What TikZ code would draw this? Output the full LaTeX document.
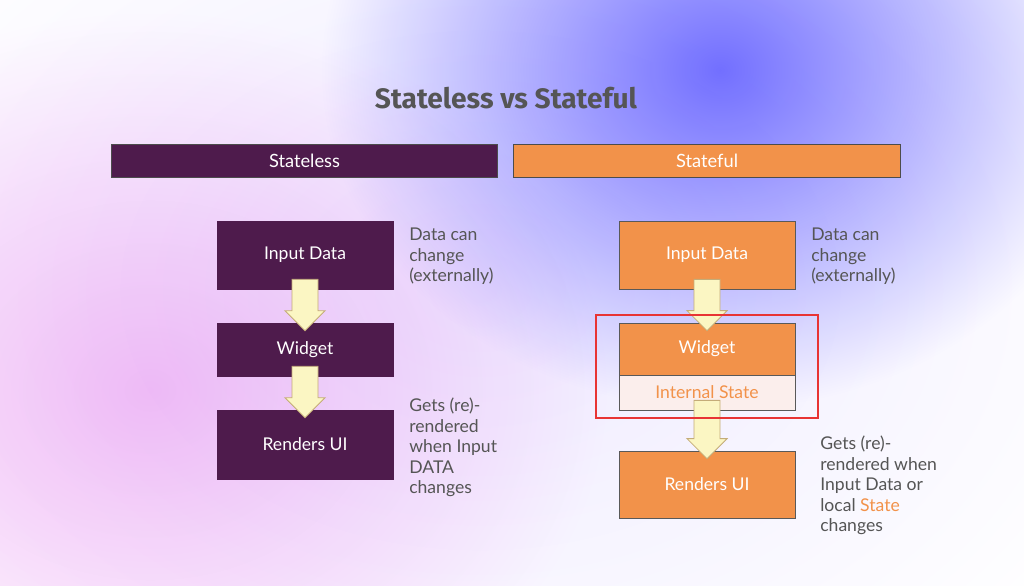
\documentclass[tikz,border=0pt]{standalone}
\usepackage{fontspec}
\setmainfont{Lato}
\newfontfamily\titlefont{Fira Sans}
\usepackage{tikz}
\usetikzlibrary{calc,fit,backgrounds}
\definecolor{plum}{RGB}{78,27,76}
\definecolor{tangerine}{RGB}{242,146,74}
\definecolor{noteGray}{RGB}{85,85,85}
\definecolor{cream}{RGB}{251,246,195}
\definecolor{creamEdge}{RGB}{196,172,120}
\definecolor{blushFill}{RGB}{251,238,236}
\definecolor{frameRed}{RGB}{232,52,52}
\tikzset{
  header/.style={draw=black!70, line width=0.5pt, minimum width=9.66cm, minimum height=0.825cm,
                 text=white, font=\fontsize{13}{15}\selectfont},
  lbox/.style={fill=plum, draw=plum, minimum width=4.4cm, text=white,
               font=\fontsize{12.5}{14}\selectfont},
  rbox/.style={fill=tangerine, draw=black!65, line width=0.5pt, minimum width=4.4cm, text=white,
               font=\fontsize{12.5}{14}\selectfont},
  note/.style={anchor=north west, inner sep=0pt, align=left, text=noteGray,
               font=\fontsize{12.5}{14.5}\selectfont},
  blockarr/.style={fill=cream, draw=creamEdge, line width=0.6pt, line join=miter},
}
% fat down arrow from the bottom of #1 into the top of #2
\newcommand{\blockarrow}[2]{%
  \draw[blockarr] ($(#1.south)+(-13,-10)$) -- ($(#2.north)+(-13,-12)$)
    -- ($(#2.north)+(-20,-12)$) -- ($(#2.north)+(0,8)$) -- ($(#2.north)+(20,-12)$)
    -- ($(#2.north)+(13,-12)$) -- ($(#1.south)+(13,-10)$) -- cycle;}

\begin{document}
\begin{tikzpicture}[x=0.025cm, y=-0.025cm]
  \useasboundingbox (0,0) rectangle (1024,585);
  % soft backdrop
  \fill[white] (0,0) rectangle (1024,585);
  \begin{scope}[blend mode=multiply]
    \clip (0,0) rectangle (1024,585);
    \shade[inner color={rgb,255:red,238;green,234;blue,255}, outer color=white] (480,290) ellipse (720 and 520);
    \shade[inner color={rgb,255:red,118;green,116;blue,255}, outer color=white] (720,70) ellipse (400 and 340);
    \shade[inner color={rgb,255:red,246;green,194;blue,246}, outer color=white] (150,390) ellipse (460 and 380);
  \end{scope}

  \node[font=\titlefont\bfseries\fontsize{20}{22}\selectfont, text=noteGray] (title) at (506,98) {Stateless vs Stateful};
  \node[header, fill=plum] (hless) at (304.5,160.5) {Stateless};
  \node[header, fill=tangerine] (hful) at (707,160.5) {Stateful};

  % stateless column
  \node[lbox, minimum height=1.7cm] (in1) at (305,255) {Input Data};
  \node[lbox, minimum height=1.325cm] (wd1) at (305,349.5) {Widget};
  \node[lbox, minimum height=1.725cm] (ru1) at (305,444.5) {Renders UI};
  \blockarrow{in1}{wd1}
  \blockarrow{wd1}{ru1}
  \node[note] (n1) at (409,228) {Data can\\change\\(externally)};
  \node[note] (n2) at (409,398) {Gets (re)-\\rendered\\when Input\\DATA\\changes};

  % stateful column
  \node[rbox, minimum height=1.7cm] (in2) at (707,255) {Input Data};
  \node[rbox, minimum height=1.3cm] (wd2) at (707,349) {Widget};
  \node[rbox, fill=blushFill, text=tangerine, minimum height=0.875cm] (st2) at (707,392.5) {Internal State};
  \node[rbox, minimum height=1.675cm] (ru2) at (707,484.5) {Renders UI};
  \blockarrow{in2}{wd2}
  \blockarrow{st2}{ru2}
  \node[draw=frameRed, line width=1.3pt, inner xsep=0.575cm, inner ysep=0.2cm, fit=(wd2)(st2)] (frame) {};
  \node[note] (n3) at (811,228) {Data can\\change\\(externally)};
  \node[note] (n4) at (820,436) {Gets (re)-\\rendered when\\Input Data or\\local {\color{tangerine}State}\\changes};
\end{tikzpicture}
\end{document}
